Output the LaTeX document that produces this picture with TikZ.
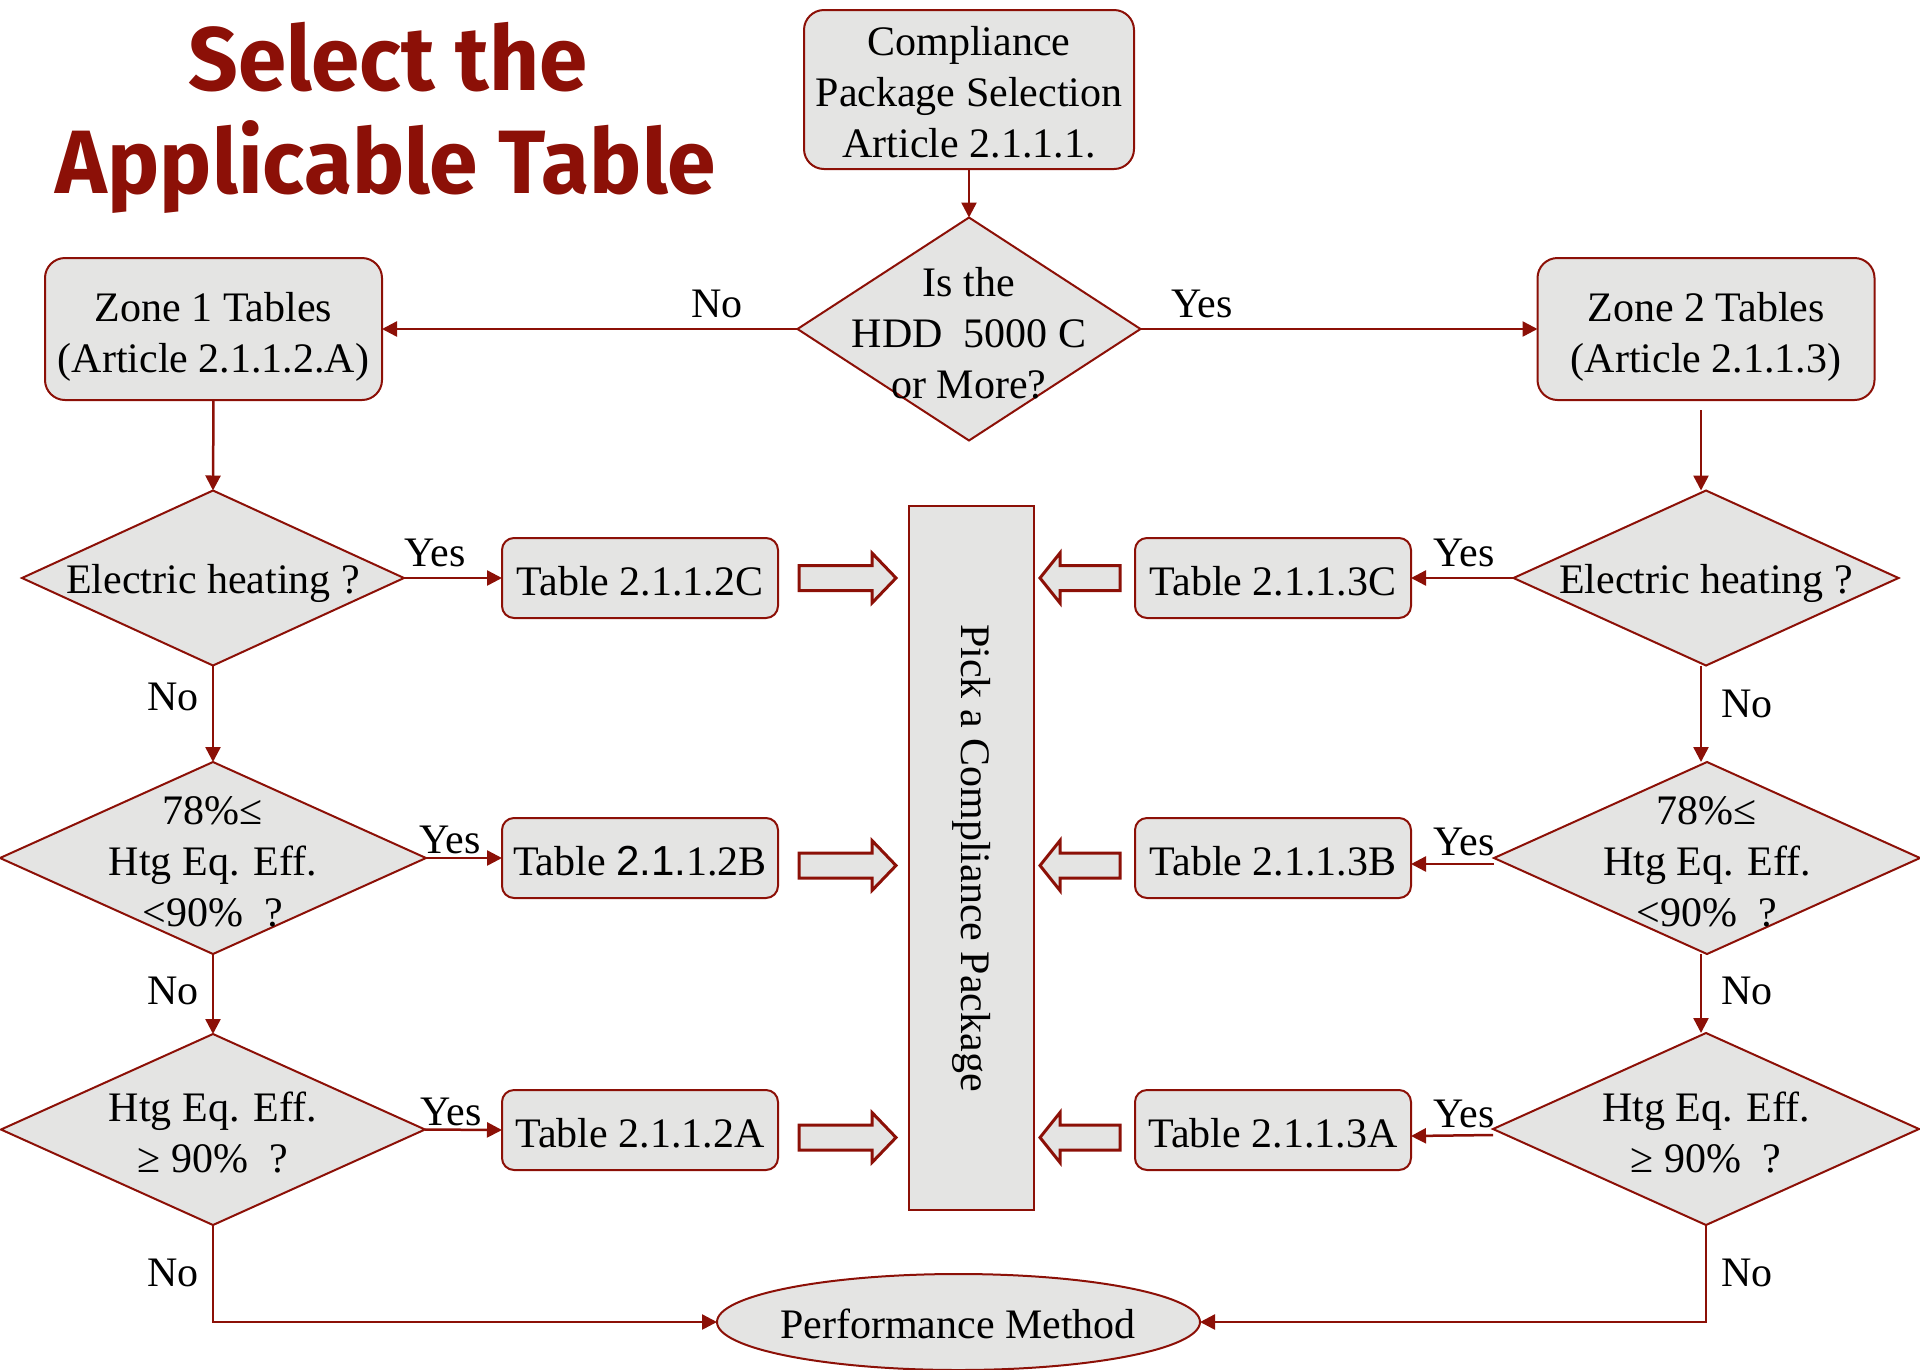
\documentclass[tikz,border=0pt]{standalone}
\usepackage{fontspec}
\usepackage{graphicx}
\setmainfont{Liberation Serif}
\newfontfamily\titlefont{Fira Sans}
\newfontfamily\sansfnt{Liberation Sans}
\usetikzlibrary{shapes.geometric,arrows.meta}
\definecolor{dred}{HTML}{8C1007}
\definecolor{boxfill}{HTML}{E4E4E3}
\tikzset{
  every node/.style={inner sep=0pt, outer sep=0pt},
  txt/.style={font=\fontsize{42}{51}\selectfont, align=center, text=black},
  ttl/.style={text=dred, anchor=base},
  rbox/.style={draw=dred, line width=2pt, fill=boxfill, rounded corners=20pt},
  tbox/.style={txt, draw=dred, line width=2pt, fill=boxfill, rounded corners=12pt, minimum width=276, minimum height=80, text height=34pt, text depth=0pt},
  dia/.style={diamond, draw=dred, line width=2pt, fill=boxfill},
  conn/.style={draw=dred, line width=2.5pt, -{Triangle[length=15pt,width=15pt]}},
  blk/.style={draw=dred, line width=3pt, fill=boxfill, line join=miter},
  lbl/.style={txt}
}
\newcommand{\blkR}[1]{\draw[blk] (799,#1-12.5) -- (872,#1-12.5) -- (872,#1-25) -- (896,#1) -- (872,#1+25) -- (872,#1+12.5) -- (799,#1+12.5) -- cycle;}
\newcommand{\blkL}[1]{\draw[blk] (1120,#1-12.5) -- (1060,#1-12.5) -- (1060,#1-25) -- (1040,#1) -- (1060,#1+25) -- (1060,#1+12.5) -- (1120,#1+12.5) -- cycle;}
\begin{document}
\begin{tikzpicture}[x=1pt,y=-1pt]
\useasboundingbox (0,0) rectangle (1920,1369);
% title
\node[ttl] (t1) at (388,90) {\resizebox{399pt}{\height}{\titlefont\bfseries\fontsize{90}{90}\selectfont Select the}};
\node[ttl] (t2) at (386,193) {\resizebox{660pt}{\height}{\titlefont\bfseries\fontsize{90}{90}\selectfont Applicable Table}};
% top
\node[rbox, minimum width=330, minimum height=159] (comp) at (969,89.5) {};
\node[txt] (compt) at (969,92.5) {Compliance\\Package Selection\\Article 2.1.1.1.};
\node[dia, minimum width=343, minimum height=223] (hdd) at (969,329) {};
\node[txt] (hddt) at (969,333) {Is the\\HDD\ \ 5000 C\\or More?};
\node[rbox, minimum width=337, minimum height=142] (z1) at (213.5,329) {};
\node[txt] (z1t) at (213.5,336.5) {Zone 1 Tables\\(Article 2.1.1.2.A)};
\node[rbox, minimum width=337, minimum height=142] (z2) at (1706,329) {};
\node[txt] (z2t) at (1706,336.5) {Zone 2 Tables\\(Article 2.1.1.3)};
% left column diamonds
\node[dia, minimum width=382, minimum height=175] (e1) at (213,578) {};
\node[txt] (e1t) at (213,583) {Electric heating ?};
\node[dia, minimum width=426, minimum height=192] (m1) at (213,858) {};
\node[txt] (m1t) at (213,862) {78\%≤\\Htg Eq. Eff.\\<90\%\ \ ?};
\node[dia, minimum width=424, minimum height=191] (g1) at (213,1129.5) {};
\node[txt] (g1t) at (213,1132) {Htg Eq. Eff.\\≥ 90\%\ \ ?};
% right column diamonds
\node[dia, minimum width=385, minimum height=175] (e2) at (1706,578) {};
\node[txt] (e2t) at (1706,583) {Electric heating ?};
\node[dia, minimum width=426, minimum height=192] (m2) at (1707,858) {};
\node[txt] (m2t) at (1707,862) {78\%≤\\Htg Eq. Eff.\\<90\%\ \ ?};
\node[dia, minimum width=426, minimum height=192] (g2) at (1706,1129) {};
\node[txt] (g2t) at (1706,1132) {Htg Eq. Eff.\\≥ 90\%\ \ ?};
% tables
\node[tbox] (t2c) at (640,578) {Table 2.1.1.2C};
\node[tbox] (t2b) at (640,858) {Table {\sansfnt 2.1.}1.2B};
\node[tbox] (t2a) at (640,1130) {Table 2.1.1.2A};
\node[tbox] (t3c) at (1273,578) {Table 2.1.1.3C};
\node[tbox] (t3b) at (1273,858) {Table 2.1.1.3B};
\node[tbox] (t3a) at (1273,1130) {Table 2.1.1.3A};
% pick box
\node[txt, draw=dred, line width=2.5pt, fill=boxfill, rotate=-90, minimum width=704, minimum height=125] (pick) at (971.5,858) {Pick a Compliance Package};
% block arrows
\blkR{578}
\blkR{865.5}
\blkR{1137.5}
\blkL{578}
\blkL{865.5}
\blkL{1137.5}
% performance
\node[ellipse, draw=dred, line width=2pt, fill=boxfill, minimum width=483, minimum height=96] (perf) at (958.5,1322) {};
\node[txt] (perft) at (958,1324) {Performance Method};
% connectors
\draw[conn] (comp.south) -- (hdd.north);
\draw[conn] (hdd.west) -- (z1.east);
\draw[conn] (hdd.east) -- (z2.west);
\draw[conn] (z1.south) -- (e1.north);
\draw[conn] ([shift={(-5,10)}]z2.south) -- ([xshift=-5pt]e2.north);
\draw[conn] (e1.south) -- (m1.north);
\draw[conn] (m1.south) -- (g1.north);
\draw[conn] ([xshift=-5pt]e2.south) -- ([xshift=-6pt]m2.north);
\draw[conn] ([xshift=-6pt]m2.south) -- ([xshift=-5pt]g2.north);
\draw[conn] (e1.east) -- (t2c.west);
\draw[conn] (m1.east) -- (t2b.west);
\draw[conn] (g1.east) -- (t2a.west);
\draw[conn] (e2.west) -- (t3c.east);
\draw[conn] ([yshift=-6pt]m2.west) -- ([yshift=-6pt]t3b.east);
\draw[conn] ([yshift=-6pt]g2.west) -- ([yshift=-6pt]t3a.east);
\draw[conn] (g1.south) |- (perf.west);
\draw[conn] (g2.south) |- (perf.east);
% labels
\node[lbl] (lno0) at (717,304) {No};
\node[lbl] (lyes0) at (1202,304) {Yes};
\node[lbl] (ly1) at (435,553) {Yes};
\node[lbl] (ly2) at (450,840) {Yes};
\node[lbl] (ly3) at (451,1112) {Yes};
\node[lbl] (ry1) at (1464,553) {Yes};
\node[lbl] (ry2) at (1464,842) {Yes};
\node[lbl] (ry3) at (1464,1114) {Yes};
\node[lbl] (ln1) at (173,697) {No};
\node[lbl] (ln2) at (173,991) {No};
\node[lbl] (ln3) at (173,1273) {No};
\node[lbl] (rn1) at (1747,704) {No};
\node[lbl] (rn2) at (1747,991) {No};
\node[lbl] (rn3) at (1747,1273) {No};
\end{tikzpicture}
\end{document}
